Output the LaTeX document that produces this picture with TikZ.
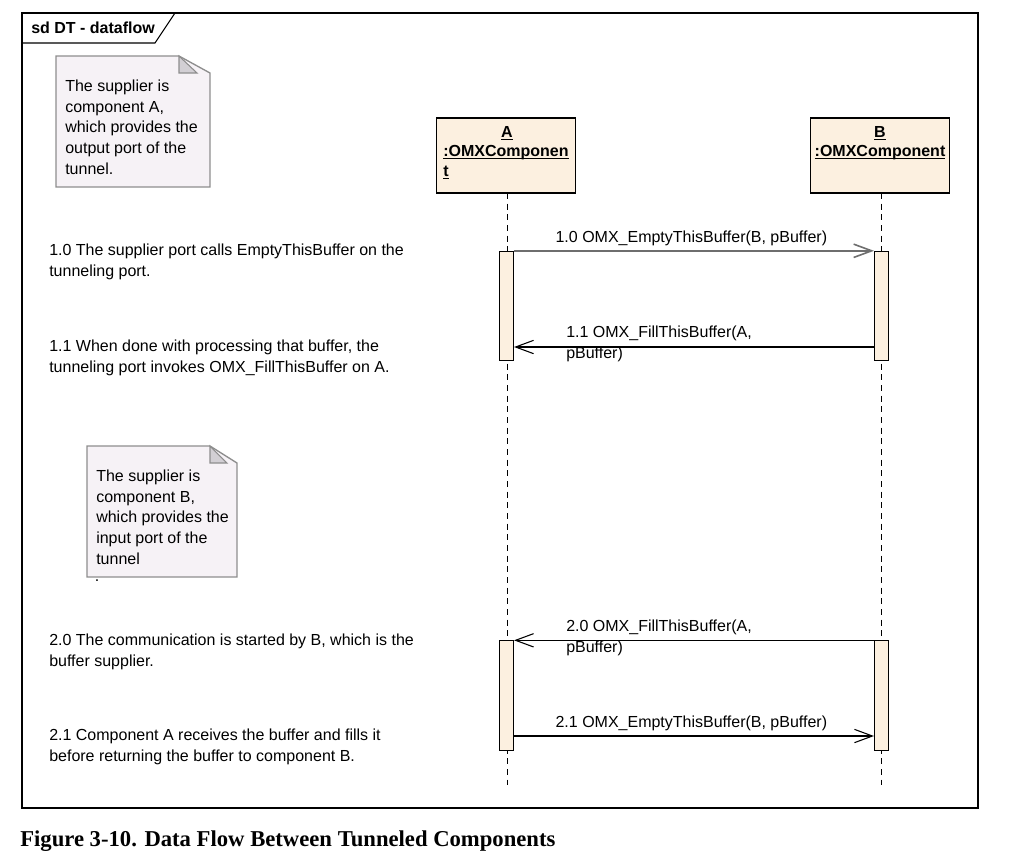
\documentclass[tikz,border=0pt]{standalone}
\usepackage{fontspec}
\setmainfont{Liberation Sans}
\newfontfamily\capfont{Liberation Serif}
\usetikzlibrary{arrows.meta}

\definecolor{notefill}{HTML}{F6F2F6}
\definecolor{noteline}{HTML}{8E8E8E}
\definecolor{foldfill}{HTML}{D2CFD4}
\definecolor{objfill}{HTML}{FCF0E0}
\definecolor{msggray}{HTML}{6E6E6E}

\newcommand{\objname}[1]{\underline{\smash{\textbf{#1}}}}

\tikzset{
	txt/.style={anchor=north west, inner sep=0pt, align=left, font=\fontsize{12}{15.4}\selectfont},
	lbl/.style={inner sep=0pt, font=\fontsize{12}{15.4}\selectfont},
	msg/.style={-{Straight Barb[length=13.5pt,width=10pt]}, line width=0.8pt},
	lifeline/.style={dash pattern=on 4.5pt off 3.5pt, line width=0.6pt},
	objbox/.style={draw, fill=objfill, line width=0.8pt, minimum width=104pt, minimum height=56.25pt, inner sep=0pt},
	actbox/.style={draw, fill=objfill, line width=0.8pt, minimum width=10.5pt, minimum height=82pt, inner sep=0pt},
	notebox/.style={draw=noteline, fill=notefill, line width=1pt},
}

\begin{document}
\begin{tikzpicture}[x=0.75pt, y=-0.75pt]
		\useasboundingbox (0,0) rectangle (1025,858);
		
		% frame
		\draw[line width=0.8pt] (22,13) rectangle (978,808);
		\draw[line width=0.8pt] (22,43) -- (155,43) -- (175,13);
		\node[lbl, anchor=base west, font=\fontsize{12}{14}\selectfont\bfseries] at (31,33) {sd DT - dataflow};
		
		% notes
		\draw[notebox] (56,56) -- (179,56) -- (210,73) -- (210,187) -- (56,187) -- cycle;
		\filldraw[draw=noteline, fill=foldfill, line width=0.8pt] (179,56) -- (179,73) -- (197,73) -- cycle;
		\node[txt] (noteA) at (65,80) {The supplier is\\component A,\\which provides the\\output port of the\\tunnel.};
		
		\draw[notebox] (87,446) -- (210,446) -- (237,463) -- (237,577) -- (87,577) -- cycle;
		\filldraw[draw=noteline, fill=foldfill, line width=0.8pt] (210,446) -- (210,463) -- (227,463) -- cycle;
		\node[txt] (noteB) at (96,470) {The supplier is\\component B,\\which provides the\\input port of the\\tunnel};
		\node[lbl] (dot) at (97,581) {.};
		
		% lifelines
		\node[objbox] (A) at (506,155.5) {};
		\node[objbox] (B) at (880,155.5) {};
		\node[lbl, anchor=base] at (507,137) {\objname{A}};
		\node[lbl, anchor=base west] at (443,156) {\objname{:OMXComponen}};
		\node[lbl, anchor=base west] at (443,176) {\objname{t}};
		\node[lbl, anchor=base] at (880,137) {\objname{B}};
		\node[lbl, anchor=base] at (880,156) {\objname{:OMXComponent}};
		
		\coordinate (endA) at (507,785);
		\coordinate (endB) at (881,785);
		\draw[lifeline] (507,193) -- (endA);
		\draw[lifeline] (881,193) -- (endB);
		
		\node[actbox] (actA1) at (506.5,306) {};
		\node[actbox] (actB1) at (881.5,306) {};
		\node[actbox] (actA2) at (506.5,695.5) {};
		\node[actbox] (actB2) at (881.5,695.5) {};
		
		% messages
		\coordinate (m11) at (0,347);
		\coordinate (m21) at (0,736);
		\draw[msg, msggray, line width=1.2pt] (actA1.north east) -- node[lbl, black, above=3.5pt, xshift=-2pt]{1.0 OMX\_EmptyThisBuffer(B, pBuffer)} (actB1.north west);
		\draw[msg] (actB1.west |- m11) -- (actA1.east |- m11);
		\node[txt] at (566,326) {1.1 OMX\_FillThisBuffer(A,\\pBuffer)};
		\draw[msg] (actB2.north west) -- (actA2.north east);
		\node[txt] at (566,620) {2.0 OMX\_FillThisBuffer(A,\\pBuffer)};
		\draw[msg] (actA2.east |- m21) -- node[lbl, above=3.5pt, xshift=-2pt]{2.1 OMX\_EmptyThisBuffer(B, pBuffer)} (actB2.west |- m21);
		
		% descriptions
		\node[txt] at (49,244) {1.0 The supplier port calls EmptyThisBuffer on the\\tunneling port.};
		\node[txt] at (49,340) {1.1 When done with processing that buffer, the\\tunneling port invokes OMX\_FillThisBuffer on A.};
		\node[txt] at (49,634) {2.0 The communication is started by B, which is the\\buffer supplier.};
		\node[txt] at (49,729) {2.1 Component A receives the buffer and fills it\\before returning the buffer to component B.};
		
		\node[anchor=base west, inner sep=0pt, font=\capfont\bfseries\fontsize{17}{20}\selectfont] at (20,846) {Figure 3-10. Data Flow Between Tunneled Components};
	\end{tikzpicture}
\end{document}
